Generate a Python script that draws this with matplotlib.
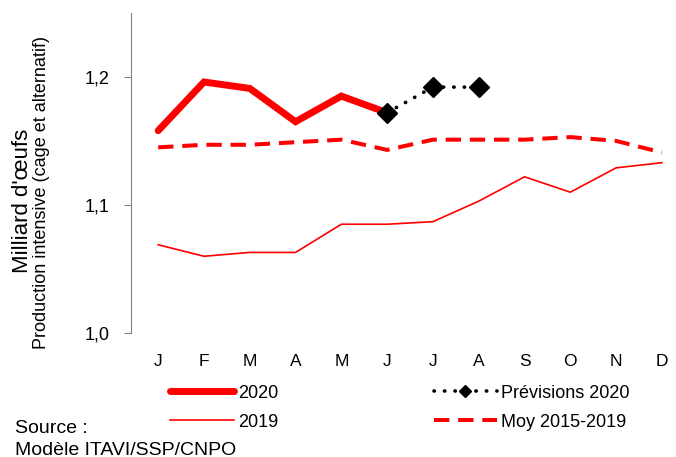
import matplotlib
matplotlib.use('Agg')
from matplotlib import pyplot as plt
from matplotlib.lines import Line2D

plt.rcParams['font.family'] = ['Liberation Sans', 'DejaVu Sans']

months = ['J', 'F', 'M', 'A', 'M', 'J', 'J', 'A', 'S', 'O', 'N', 'D']
prod_2020 = [1.158, 1.196, 1.191, 1.165, 1.185, 1.172]
prev_2020 = [1.172, 1.192, 1.192]
moy_2015_2019 = [1.145, 1.147, 1.147, 1.149, 1.151, 1.143, 1.151, 1.151, 1.151, 1.153, 1.150, 1.141]
prod_2019 = [1.069, 1.060, 1.063, 1.063, 1.085, 1.085, 1.087, 1.103, 1.122, 1.110, 1.129, 1.133]

fig = plt.figure(figsize=(6.76, 4.57), dpi=100)
ax = fig.add_axes([0.194, 0.271, 0.819, 0.701])

red = '#ff0000'
dots = (0, (0.1, 2.8))
dashes = (0, (3.8, 2.2))

x = list(range(12))
l2020, = ax.plot(x[:6], prod_2020, color=red, lw=5, solid_capstyle='round',
                 solid_joinstyle='miter', label='2020', zorder=4)
l2019, = ax.plot(x, prod_2019, color=red, lw=1.2, label='2019', zorder=3)
ax.plot(x[5:8], prev_2020, color='black', lw=2.6, linestyle=dots,
        dash_capstyle='round', marker='D', markersize=10, zorder=5)
lmoy, = ax.plot(x, moy_2015_2019, color=red, lw=2.9, linestyle=dashes,
                label='Moy 2015-2019', zorder=3)
# legend entry with a smaller diamond than the plotted one
lprev = Line2D([], [], color='black', lw=2.6, linestyle=dots, dash_capstyle='round',
               marker='D', markersize=6, label='Prévisions 2020')

ax.set_xlim(-0.59, 11.5)
ax.set_ylim(1.0, 1.25)
ax.set_yticks([1.0, 1.1, 1.2])
ax.set_yticklabels(['1,0', '1,1', '1,2'], fontsize=13)
ax.set_xticks(x)
ax.set_xticklabels(months, fontsize=12.5)
ax.tick_params(axis='x', length=0, pad=15)
ax.tick_params(axis='y', length=5, color='#808080', direction='out', pad=10.5)
for s in ['top', 'right', 'bottom']:
    ax.spines[s].set_visible(False)
ax.spines['left'].set_color('#808080')

fig.text(0.034, 0.56, "Milliard d'œufs", rotation=90, fontsize=16, ha='center', va='center')
fig.text(0.062, 0.578, 'Production intensive (cage et alternatif)', rotation=90, fontsize=13,
         ha='center', va='center')

fig.legend(handles=[l2020, l2019, lprev, lmoy], ncol=2, loc='center left',
           bbox_to_anchor=(0.228, 0.108), frameon=False, fontsize=13, handlelength=3.5,
           columnspacing=8.6, handletextpad=0.25, labelspacing=0.66)

fig.text(0.022, 0.063, 'Source :', fontsize=14, ha='left', va='center')
fig.text(0.022, 0.015, 'Modèle ITAVI/SSP/CNPO', fontsize=14, ha='left', va='center')

fig.savefig('out.png', dpi=100)
